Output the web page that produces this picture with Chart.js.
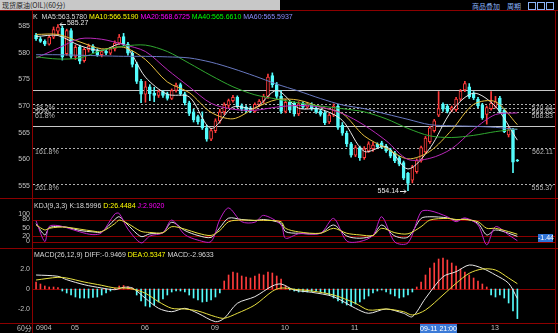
<!DOCTYPE html>
<html>
<head>
<meta charset="utf-8">
<script src="https://cdn.jsdelivr.net/npm/chart.js@4.4.1/dist/chart.umd.min.js"></script>
<style>
  body { margin: 0; background: #000; }
  #wrap { position: relative; width: 558px; height: 333px; overflow: hidden; background: #000; font-family: "Liberation Sans", Arial, sans-serif; }
  canvas { position: absolute; left: 0; }
  .txt { position: absolute; font-size: 7px; line-height: 7px; white-space: nowrap; color: #d8d8d8; }
  .ln { position: absolute; background: #8c0000; }
</style>
</head>
<body>
<div id="wrap">
  <canvas id="main" width="558" height="187" style="top:11px"></canvas>
  <canvas id="kdj" width="558" height="50" style="top:198px"></canvas>
  <canvas id="macd" width="558" height="85" style="top:248px"></canvas>

  <div class="ln" style="left:0;top:0;width:280px;height:10px;background:#c8c8c8"></div>
  <div class="txt" style="left:2px;top:2px;color:#202020;font-family:'Noto Sans CJK SC';font-size:7px">现货原油(OIL)(60分)</div>
  <div class="txt" style="left:472px;top:3px;color:#8ab4f8;font-family:'Noto Sans CJK SC'">商品叠加</div>
  <div class="txt" style="left:507px;top:3px;color:#8ab4f8;font-family:'Noto Sans CJK SC'">周期</div>
  <div class="ln" style="left:528px;top:2px;width:6px;height:6px;background:none;border:1px solid #8ab4f8"></div>
  <div class="ln" style="left:537px;top:2px;width:6px;height:6px;background:none;border:1px solid #8ab4f8"></div>
  <div class="ln" style="left:546px;top:2px;width:6px;height:6px;background:none;border:1px solid #8ab4f8"></div>

  <div class="ln" style="left:0;top:10px;width:558px;height:1px"></div>
  <div class="ln" style="left:0;top:198px;width:558px;height:1px"></div>
  <div class="ln" style="left:0;top:248px;width:558px;height:1px"></div>
  <div class="ln" style="left:0;top:323px;width:558px;height:1px"></div>
  <div class="ln" style="left:32px;top:11px;width:1px;height:322px"></div>
  <div class="ln" style="left:555px;top:11px;width:1px;height:322px"></div>

  <div class="txt" style="left:33px;top:13px">K&nbsp;&nbsp;<span>MA5:563.5780</span> <span style="color:#ffff00">MA10:566.5190</span> <span style="color:#ff00ff">MA20:568.6725</span> <span style="color:#00ff00">MA40:565.6610</span> <span style="color:#8c8cff">MA60:565.5937</span></div>
  <div class="txt" style="left:34px;top:202px">KDJ(9,3,3) K:18.5996 <span style="color:#ffff00">D:26.4484</span> <span style="color:#ff00ff">J:2.9020</span></div>
  <div class="txt" style="left:34px;top:251px">MACD(26,12,9) DIFF:-0.9469 <span style="color:#ffff00">DEA:0.5347</span> MACD:-2.9633</div>

  <div class="txt" style="left:538px;top:234px;width:15px;height:8px;line-height:8px;background:#2f74d8;color:#fff;text-align:center">-1.44</div>
  <div class="txt" style="left:17px;top:325px;color:#c0c0c0;font-family:'Noto Sans CJK SC'">60分</div>
  <div class="txt" style="left:420px;top:324px;width:37px;height:9px;line-height:9px;background:#3a7ad8;color:#fff;text-align:center">09-11 21:00</div>
</div>
<script>
// 60-minute bars, index 0 = first bar of 0904
const dayIdx = [0, 8, 24, 40, 56, 72, 104];
const dayLabels = ['0904', '05', '06', '09', '10', '11', '13'];
const priceTicks = [555, 560, 565, 570, 575, 580, 585];

const opens = [583.3,582.6,582.1,581.6,582.9,584.0,584.6,579.8,584.1,579.3,581.1,578.5,580.5,581.2,580.4,579.6,580.3,579.9,580.7,581.8,
  583.0,581.6,579.9,577.8,574.6,572.2,573.6,572.4,572.0,572.7,572.3,571.4,572.9,574.0,572.3,570.6,568.9,568.0,567.5,565.9,
  563.8,565.4,567.2,568.9,570.1,571.0,571.6,570.1,569.8,569.6,569.0,570.3,570.9,571.8,575.7,574.0,571.8,569.0,570.7,570.5,
  568.5,570.5,569.8,570.3,569.6,569.1,568.7,567.0,568.3,570.0,566.4,564.9,562.9,560.8,562.2,560.3,561.6,562.0,562.8,563.1,
  562.5,561.8,561.2,560.3,559.4,557.4,556.1,557.7,559.8,561.4,563.3,565.4,568.3,570.3,570.0,569.2,569.3,571.3,573.0,573.6,
  572.4,571.3,570.2,568.4,569.5,569.9,571.5,569.2,564.6,565.5,559.8];
const highs = [583.6,582.9,582.4,583.2,584.8,585.27,585.0,584.4,584.5,581.4,581.4,580.9,581.6,581.5,580.7,580.5,580.6,581.0,582.2,583.4,
  583.6,581.9,580.3,578.2,575.0,574.6,574.0,573.5,573.0,572.9,572.6,573.2,574.3,574.3,572.6,570.9,569.4,568.3,568.9,566.4,
  565.8,567.6,569.4,570.6,571.3,572.0,571.9,570.4,570.1,569.9,570.6,571.2,572.2,576.0,576.2,574.4,572.9,571.2,571.0,570.8,
  570.8,570.8,570.7,570.6,569.9,569.4,569.0,568.6,570.4,570.3,566.9,565.3,563.2,562.6,562.5,562.4,563.3,563.2,563.1,563.4,
  562.8,562.1,561.5,560.6,559.7,557.6,558.9,560.1,562.5,564.3,566.2,567.5,572.7,570.6,570.3,570.0,571.6,573.1,574.6,574.2,
  572.7,571.6,570.5,570.0,572.7,571.8,571.8,569.5,566.0,565.8,560.0];
const lows = [582.3,581.9,581.3,581.4,582.6,583.5,578.6,579.5,578.9,578.7,577.9,578.2,580.1,580.0,579.3,579.2,579.6,579.6,580.3,581.5,
  581.3,579.5,577.3,574.2,570.6,570.7,571.0,570.8,571.6,571.6,571.1,571.2,572.6,572.0,570.2,568.2,567.0,566.6,565.6,563.4,
  563.5,565.0,566.8,568.4,569.6,570.7,569.7,569.1,568.8,568.8,568.8,569.9,570.5,571.4,573.5,571.4,568.6,568.7,568.8,568.1,
  568.2,569.5,569.5,569.2,568.6,568.1,566.5,566.7,568.0,565.6,564.5,562.4,560.4,560.5,559.8,560.0,561.3,561.5,562.1,562.0,
  561.3,560.3,559.4,558.8,556.2,554.14,555.6,557.4,559.5,561.1,563.0,565.1,568.0,569.0,568.7,568.9,569.0,571.0,572.7,571.4,
  571.2,569.7,567.5,566.6,569.2,569.6,568.7,565.0,564.2,557.5,559.6];
const closes = [582.6,582.1,581.6,582.9,584.3,584.8,579.2,584.1,579.3,581.0,578.4,580.6,581.2,580.3,579.6,580.2,579.9,580.7,581.8,582.9,
  581.6,579.9,577.8,574.6,572.2,573.6,572.3,572.0,572.7,572.0,571.4,572.9,573.9,572.3,570.6,568.6,567.4,567.0,565.9,563.8,
  565.4,567.2,568.9,570.2,571.0,571.6,570.0,569.4,569.1,569.0,570.3,570.9,571.8,575.4,574.0,571.8,569.0,570.7,569.2,568.5,
  570.4,569.8,570.4,569.5,568.9,568.4,566.9,568.3,570.0,566.0,564.9,562.9,560.8,562.2,560.3,562.0,562.9,562.7,562.4,562.3,
  561.6,560.6,559.7,559.1,556.5,555.5,558.6,559.8,562.2,564.0,565.9,567.2,569.5,569.4,569.0,569.7,571.3,572.8,574.2,571.7,
  571.5,570.0,567.8,569.7,570.5,570.8,569.0,565.2,565.5,559.5,559.7];

// moving averages read every 5 bars
const maIdx = [0,5,10,15,20,25,30,35,40,45,50,55,60,65,70,75,80,85,90,95,100,105,110];
const ma5  = [583.0,583.2,581.3,580.4,581.6,575.4,572.2,571.7,565.8,569.8,569.6,572.9,569.6,569.4,567.3,561.5,562.4,558.2,562.1,569.1,572.4,569.9,563.6];
const ma10 = [583.4,583.4,582.0,580.7,581.0,578.7,574.5,572.5,568.8,567.6,569.6,571.2,571.1,569.8,568.6,564.4,562.1,560.1,561.5,565.5,570.3,570.8,566.5];
const ma20 = [579.0,580.8,582.6,582.5,581.5,580.2,576.8,573.6,570.5,569.4,569.2,569.8,570.1,569.8,568.6,566.4,563.5,560.0,560.2,562.0,565.6,568.4,568.7];
const ma40 = [579.2,578.8,579.0,580.4,581.2,581.4,580.2,578.0,575.7,573.6,572.1,571.3,570.6,570.0,569.5,568.9,567.6,565.8,564.4,564.1,564.5,565.2,565.7];
const ma60 = [579.6,579.6,579.5,579.4,579.3,579.3,579.2,579.0,578.2,577.0,575.6,574.1,572.8,571.4,570.2,569.5,568.5,567.5,566.5,566.3,566.2,566.0,565.6];

const boxLines = [573.06, 566.3];
const fibValues = [570.44, 569.63, 568.83, 562.11, 555.37];
const fibNames = ['38.2%', '50%', '61.8%', '161.8%', '261.8%'];

const kdjIdx = [0,2,3,5,7,10,13,15,18,19,21,24,26,29,31,34,37,40,42,44,47,50,52,56,57,60,65,68,71,74,77,79,82,85,88,90,94,96,98,101,103,105,108,110];
const kdjK = [65,24,50,55,52,40,35,35,80,90,60,18,28,32,70,40,22,15,50,85,80,76,80,66,36,30,30,60,20,12,22,60,20,16,84,90,86,78,82,66,24,42,30,18.6];
const kdjD = [60,42,48,52,52,45,38,36,65,78,65,37,33,32,54,45,30,22,40,72,78,77,77,72,48,35,30,48,30,24,22,48,32,28,54,78,84,80,80,72,48,48,36,26.4];
const kdjJ = [75,0,55,58,50,35,25,32,100,102,45,-5,20,32,78,25,5,0,80,122,72,70,95,60,12,28,30,84,2,0,22,90,-2,-5,108,112,90,72,86,60,-12,54,24,2.9];
const kdjTicks = [0, 20, 50, 80, 100];
const kdjLevels = [80, 20, 0];

const macdIdx = [0,5,7,11,15,18,20,22,25,28,31,34,37,41,43,46,50,54,56,59,63,68,73,76,80,84,86,89,93,96,99,102,105,108,110];
const diff = [1.4,1.27,0.93,0.43,0.1,-0.07,0.17,0.1,-0.93,-1.93,-2.27,-1.93,-2.43,-3.27,-2.93,-1.43,-0.77,0.3,0.5,-0.1,
  -0.33,-0.77,-1.93,-2.43,-2.0,-2.43,-2.77,-0.93,1.23,1.73,2.4,2.07,1.4,0.57,-0.95];
const dea = [0.9,1.17,1.1,0.7,0.37,0.1,0.1,0.0,-0.43,-1.27,-1.93,-2.0,-2.2,-2.77,-2.93,-2.43,-1.6,-0.23,0.1,-0.03,
  -0.2,-0.6,-1.43,-2.1,-2.0,-2.27,-2.6,-2.1,-0.6,0.57,1.57,2.0,1.9,1.1,0.53];
const macdBars = [0.7,0.5,0.3,0.2,0.2,0.15,
  -0.2,-0.4,-0.6,-0.8,-0.9,-0.9,-0.9,-0.85,-0.8,-0.6,-0.4,-0.2,
  0.1,0.3,0.35,0.25,0.1,
  -0.6,-1.2,-1.7,-1.8,-1.6,-1.3,-1.0,-0.6,-0.3,
  -0.2,-0.2,-0.3,
  -0.6,-0.9,-1.1,-1.3,-1.25,-1.1,-0.8,-0.4,
  0.8,1.4,1.7,1.6,1.3,1.2,1.1,1.3,1.5,1.4,1.7,1.6,1.3,1.0,0.3,
  -0.1,-0.2,-0.3,-0.3,-0.3,-0.25,-0.2,-0.3,-0.4,
  -0.6,-0.9,-1.2,-1.4,-1.6,-1.7,-1.5,-1.3,-1.0,-0.7,-0.4,-0.2,
  -0.1,-0.3,-0.5,-0.7,-0.9,-0.8,-0.6,-0.3,
  0.2,0.7,1.4,2.1,2.6,3.0,3.1,2.9,2.6,2.3,2.0,1.7,1.4,1.1,0.8,0.5,0.2,
  -0.6,-0.8,-0.6,-0.9,-1.4,-2.2,-2.96];
const macdTicks = [-2, 0, 2];

const UP = '#ff3c3c', DOWN = '#54fcfc', GRID = '#8c0000', AXIS_TEXT = '#c0c0c0';
const FONT = '"Liberation Sans", Arial, sans-serif';

function noPad(s) {
  s.paddingTop = 0; s.paddingBottom = 0; s.paddingLeft = 0; s.paddingRight = 0;
}

function xAxis(show) {
  return {
    type: 'linear', min: -0.7, max: 118.6, offset: false, display: show,
    grid: { display: false, drawTicks: false }, border: { display: false },
    afterBuildTicks: s => { s.ticks = dayIdx.map(v => ({ value: v })); },
    afterFit: s => { s.height = show ? 10 : 0; noPad(s); },
    ticks: {
      autoSkip: false, maxRotation: 0, align: 'start', padding: 1,
      color: AXIS_TEXT, font: { size: 7, family: FONT },
      callback: (v, i) => dayLabels[i]
    }
  };
}

function yAxis(min, max, ticks, fmt) {
  return {
    min: min, max: max,
    grid: { display: false, drawTicks: false }, border: { display: false },
    afterFit: s => { s.width = 33; noPad(s); },
    afterBuildTicks: s => { s.ticks = ticks.map(v => ({ value: v })); },
    ticks: { autoSkip: false, padding: 3, color: AXIS_TEXT, font: { size: 7, family: FONT, lineHeight: 1 }, callback: fmt || (v => v) }
  };
}

function line(xs, ys, color, order) {
  return {
    type: 'line', data: xs.map((x, i) => ({ x: x, y: ys[i] })),
    borderColor: color, borderWidth: 1, pointRadius: 0, tension: 0.3, order: order || 0
  };
}

const baseOpts = {
  responsive: false, animation: false, events: [],
  layout: { autoPadding: false, padding: { left: 0, right: 3, top: 0, bottom: 0 } },
  plugins: { legend: { display: false }, tooltip: { enabled: false } }
};

const isUp = closes.map((c, i) => c >= opens[i]);
const candleColor = isUp.map(u => u ? UP : DOWN);

const levelPlugin = {
  id: 'levels',
  beforeDatasetsDraw(chart) {
    const { ctx, chartArea: a, scales: { y } } = chart;
    ctx.save();
    ctx.strokeStyle = '#c8c8c8';
    ctx.lineWidth = 1;
    boxLines.forEach(v => {
      const py = Math.round(y.getPixelForValue(v)) + 0.5;
      ctx.beginPath(); ctx.moveTo(a.left, py); ctx.lineTo(a.right, py); ctx.stroke();
    });
    ctx.setLineDash([2, 2]);
    ctx.strokeStyle = '#b0b0b0';
    ctx.font = '7px ' + FONT;
    ctx.fillStyle = '#b4b4b4';
    ctx.textBaseline = 'top';
    fibValues.forEach((v, i) => {
      const py = Math.round(y.getPixelForValue(v)) + 0.5;
      ctx.beginPath(); ctx.moveTo(a.left, py); ctx.lineTo(a.right, py); ctx.stroke();
      ctx.textAlign = 'left'; ctx.fillText(fibNames[i], a.left + 2, py);
      ctx.textAlign = 'right'; ctx.fillText(v.toFixed(2), a.right - 2, py);
    });
    ctx.restore();
  },
  afterDatasetsDraw(chart) {
    const { ctx, scales: { x, y } } = chart;
    const hi = highs.indexOf(Math.max(...highs));
    const lo = lows.indexOf(Math.min(...lows));
    ctx.save();
    ctx.strokeStyle = '#e8e8e8'; ctx.fillStyle = '#e8e8e8';
    ctx.font = '7px ' + FONT; ctx.textBaseline = 'middle';
    let px = x.getPixelForValue(hi) + 2, py = Math.round(y.getPixelForValue(highs[hi])) + 0.5;
    ctx.beginPath(); ctx.moveTo(px, py); ctx.lineTo(px + 6, py);
    ctx.moveTo(px, py); ctx.lineTo(px + 2, py - 2); ctx.moveTo(px, py); ctx.lineTo(px + 2, py + 2); ctx.stroke();
    ctx.textAlign = 'left'; ctx.fillText(highs[hi].toFixed(2), px + 7, py - 1);
    px = x.getPixelForValue(lo) - 2; py = Math.round(y.getPixelForValue(lows[lo])) + 0.5;
    ctx.beginPath(); ctx.moveTo(px, py); ctx.lineTo(px - 6, py);
    ctx.moveTo(px, py); ctx.lineTo(px - 2, py - 2); ctx.moveTo(px, py); ctx.lineTo(px - 2, py + 2); ctx.stroke();
    ctx.textAlign = 'right'; ctx.fillText(lows[lo].toFixed(2), px - 7, py);
    ctx.restore();
  }
};

function refLines(levels) {
  return {
    id: 'ref',
    beforeDatasetsDraw(chart) {
      const { ctx, chartArea: a, scales: { y } } = chart;
      ctx.save();
      ctx.strokeStyle = GRID; ctx.lineWidth = 1;
      levels.forEach(v => {
        const py = Math.round(y.getPixelForValue(v)) + 0.5;
        ctx.beginPath(); ctx.moveTo(a.left, py); ctx.lineTo(a.right, py); ctx.stroke();
      });
      ctx.restore();
    }
  };
}

new Chart(document.getElementById('main'), {
  type: 'bar',
  data: {
    datasets: [
      { data: highs.map((h, i) => ({ x: i, y: [lows[i], h] })), backgroundColor: candleColor,
        barThickness: 1, grouped: false, order: 3 },
      { data: opens.map((o, i) => ({ x: i, y: [o, closes[i]] })),
        backgroundColor: isUp.map(u => u ? '#000' : DOWN), borderColor: candleColor,
        borderWidth: 1, borderSkipped: false, barThickness: 3, minBarLength: 1, grouped: false, order: 2 },
      line(maIdx, ma60, '#6878c0'),
      line(maIdx, ma40, '#30a830'),
      line(maIdx, ma20, '#b828b8'),
      line(maIdx, ma10, '#e8c040'),
      line(maIdx, ma5, '#e8e8e8')
    ]
  },
  options: Object.assign({}, baseOpts, {
    scales: { x: xAxis(false), y: yAxis(552.77, 587.79, priceTicks) }
  }),
  plugins: [levelPlugin]
});

new Chart(document.getElementById('kdj'), {
  type: 'line',
  data: {
    datasets: [
      line(kdjIdx, kdjD, '#e8e040'),
      line(kdjIdx, kdjJ, '#c020c8'),
      line(kdjIdx, kdjK, '#e8e8e8')
    ]
  },
  options: Object.assign({}, baseOpts, {
    scales: { x: xAxis(false), y: yAxis(-23.6, 158.2, kdjTicks) }
  }),
  plugins: [refLines(kdjLevels)]
});

new Chart(document.getElementById('macd'), {
  type: 'bar',
  data: {
    datasets: [
      { data: macdBars.map((v, i) => ({ x: i, y: v })), backgroundColor: macdBars.map(v => v >= 0 ? UP : DOWN),
        barThickness: 1, grouped: false, order: 2 },
      line(macdIdx, dea, '#e8e040'),
      line(macdIdx, diff, '#e8e8e8')
    ]
  },
  options: Object.assign({}, baseOpts, {
    scales: { x: xAxis(true), y: yAxis(-3.4, 4.1, macdTicks, v => v === 0 ? '0' : v.toFixed(1)) }
  }),
  plugins: [refLines([0])]
});
</script>
</body>
</html>
